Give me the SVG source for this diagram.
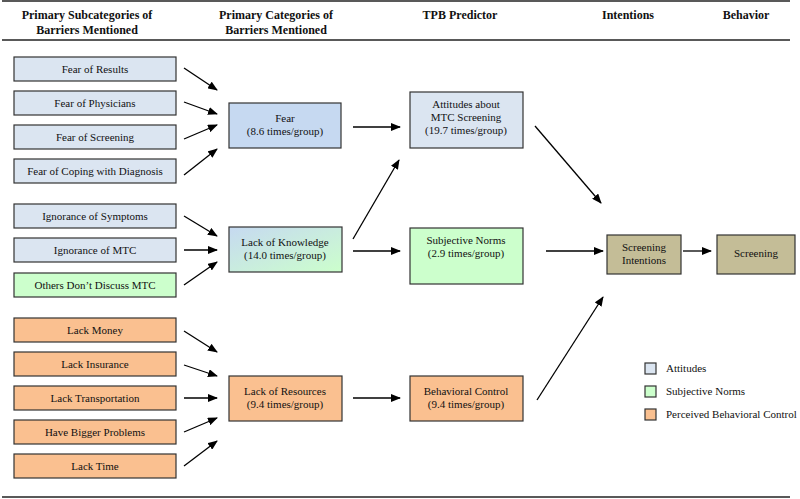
<svg xmlns="http://www.w3.org/2000/svg" width="800" height="499" viewBox="0 0 800 499">
<style>
text{font-family:'Liberation Serif','Times New Roman',Times,'DejaVu Serif',serif;fill:#111;}
.h{font-size:12px;font-weight:bold;text-anchor:middle;}
.t{font-size:11px;text-anchor:middle;}
.lg{font-size:11px;}
.box{stroke:#333;stroke-width:1.2;}
.att{fill:#dbe5f1;}
.attd{fill:#c6d9f1;}
.sn{fill:#ccffcc;}
.pbc{fill:#fac090;}
.tan{fill:#c4bd97;}
.c line{stroke:#000;stroke-width:1.3;marker-end:url(#ah);}
.rule{stroke:#222;stroke-width:1.3;}
</style>
<defs>
<marker id="ah" markerWidth="10" markerHeight="8" refX="9" refY="4" orient="auto" markerUnits="userSpaceOnUse">
<path d="M0,0 L10,4 L0,8 z" fill="#000"/>
</marker>
<linearGradient id="gk" x1="0" y1="0" x2="1" y2="1">
<stop offset="0" stop-color="#c6d9f1"/>
<stop offset="1" stop-color="#ccffcc"/>
</linearGradient>
</defs>
<rect width="800" height="499" fill="#fff"/>
<line class="rule" x1="2" y1="1" x2="790" y2="1"/>
<line class="rule" x1="2" y1="40" x2="790" y2="40"/>
<line class="rule" x1="2" y1="497" x2="790" y2="497"/>
<g id="headers">
<text class="h" x="87" y="19">Primary Subcategories of</text>
<text class="h" x="87" y="34">Barriers Mentioned</text>
<text class="h" x="276" y="19">Primary Categories of</text>
<text class="h" x="276" y="34">Barriers Mentioned</text>
<text class="h" x="460" y="19">TPB Predictor</text>
<text class="h" x="628" y="19">Intentions</text>
<text class="h" x="746" y="19">Behavior</text>
</g>
<g id="fear-results"><rect class="box att" x="14" y="57" width="162" height="24"/><text class="t" x="95" y="73">Fear of Results</text></g>
<g id="fear-physicians"><rect class="box att" x="14" y="91" width="162" height="24"/><text class="t" x="95" y="107">Fear of Physicians</text></g>
<g id="fear-screening"><rect class="box att" x="14" y="125" width="162" height="24"/><text class="t" x="95" y="141">Fear of Screening</text></g>
<g id="fear-coping"><rect class="box att" x="14" y="159" width="162" height="24"/><text class="t" x="95" y="175">Fear of Coping with Diagnosis</text></g>
<g id="ign-symptoms"><rect class="box att" x="14" y="204" width="162" height="24"/><text class="t" x="95" y="220">Ignorance of Symptoms</text></g>
<g id="ign-mtc"><rect class="box att" x="14" y="238" width="162" height="24"/><text class="t" x="95" y="254">Ignorance of MTC</text></g>
<g id="others-discuss"><rect class="box sn" x="14" y="273" width="162" height="24"/><text class="t" x="95" y="289">Others Don’t Discuss MTC</text></g>
<g id="lack-money"><rect class="box pbc" x="14" y="318" width="162" height="24"/><text class="t" x="95" y="334">Lack Money</text></g>
<g id="lack-insurance"><rect class="box pbc" x="14" y="352" width="162" height="24"/><text class="t" x="95" y="368">Lack Insurance</text></g>
<g id="lack-transport"><rect class="box pbc" x="14" y="386" width="162" height="24"/><text class="t" x="95" y="402">Lack Transportation</text></g>
<g id="bigger-problems"><rect class="box pbc" x="14" y="420" width="162" height="24"/><text class="t" x="95" y="436">Have Bigger Problems</text></g>
<g id="lack-time"><rect class="box pbc" x="14" y="454" width="162" height="24"/><text class="t" x="95" y="470">Lack Time</text></g>
<g id="fear"><rect class="box attd" x="229" y="103" width="112" height="45"/><text class="t" x="285" y="122">Fear</text><text class="t" x="285" y="135">(8.6 times/group)</text></g>
<g id="knowledge"><rect class="box" fill="url(#gk)" x="229" y="227" width="113" height="45"/><text class="t" x="285" y="246">Lack of Knowledge</text><text class="t" x="285" y="259">(14.0 times/group)</text></g>
<g id="resources"><rect class="box pbc" x="229" y="376" width="113" height="45"/><text class="t" x="285" y="395">Lack of Resources</text><text class="t" x="285" y="408">(9.4 times/group)</text></g>
<g id="attitudes"><rect class="box att" x="410" y="92" width="113" height="56"/><text class="t" x="466" y="108">Attitudes about</text><text class="t" x="466" y="121">MTC Screening</text><text class="t" x="466" y="134">(19.7 times/group)</text></g>
<g id="subjective"><rect class="box sn" x="410" y="228" width="113" height="56"/><text class="t" x="466" y="244">Subjective Norms</text><text class="t" x="466" y="257">(2.9 times/group)</text></g>
<g id="behavioral"><rect class="box pbc" x="410" y="376" width="113" height="45"/><text class="t" x="466" y="395">Behavioral Control</text><text class="t" x="466" y="408">(9.4 times/group)</text></g>
<g id="intentions"><rect class="box tan" x="607" y="235" width="74" height="39"/><text class="t" x="644" y="251">Screening</text><text class="t" x="644" y="264">Intentions</text></g>
<g id="screening"><rect class="box tan" x="717" y="235" width="78" height="39"/><text class="t" x="756" y="257">Screening</text></g>
<g class="c" id="connectors">
<line x1="184" y1="68" x2="217" y2="90"/>
<line x1="184" y1="102" x2="217" y2="114"/>
<line x1="184" y1="139" x2="217" y2="125"/>
<line x1="184" y1="175" x2="217" y2="149"/>
<line x1="184" y1="216" x2="217" y2="236"/>
<line x1="184" y1="250" x2="217" y2="250"/>
<line x1="184" y1="285" x2="217" y2="262"/>
<line x1="184" y1="331" x2="217" y2="352"/>
<line x1="184" y1="365" x2="217" y2="376"/>
<line x1="184" y1="398" x2="217" y2="398"/>
<line x1="184" y1="432" x2="217" y2="418"/>
<line x1="184" y1="466" x2="217" y2="441"/>
<line x1="353" y1="127" x2="400" y2="127"/>
<line x1="353" y1="239" x2="399" y2="160"/>
<line x1="353" y1="251" x2="400" y2="251"/>
<line x1="353" y1="398" x2="400" y2="398"/>
<line x1="535" y1="126" x2="601" y2="203"/>
<line x1="546" y1="251" x2="603" y2="251"/>
<line x1="537" y1="400" x2="603" y2="297"/>
<line x1="683" y1="251" x2="711" y2="251"/>
</g>
<g id="legend">
<rect class="box att" x="645" y="363" width="11" height="11"/><text class="lg" x="666" y="372">Attitudes</text>
<rect class="box sn" x="645" y="386" width="11" height="11"/><text class="lg" x="666" y="395">Subjective Norms</text>
<rect class="box pbc" x="645" y="409" width="11" height="11"/><text class="lg" x="666" y="418">Perceived Behavioral Control</text>
</g>
</svg>
